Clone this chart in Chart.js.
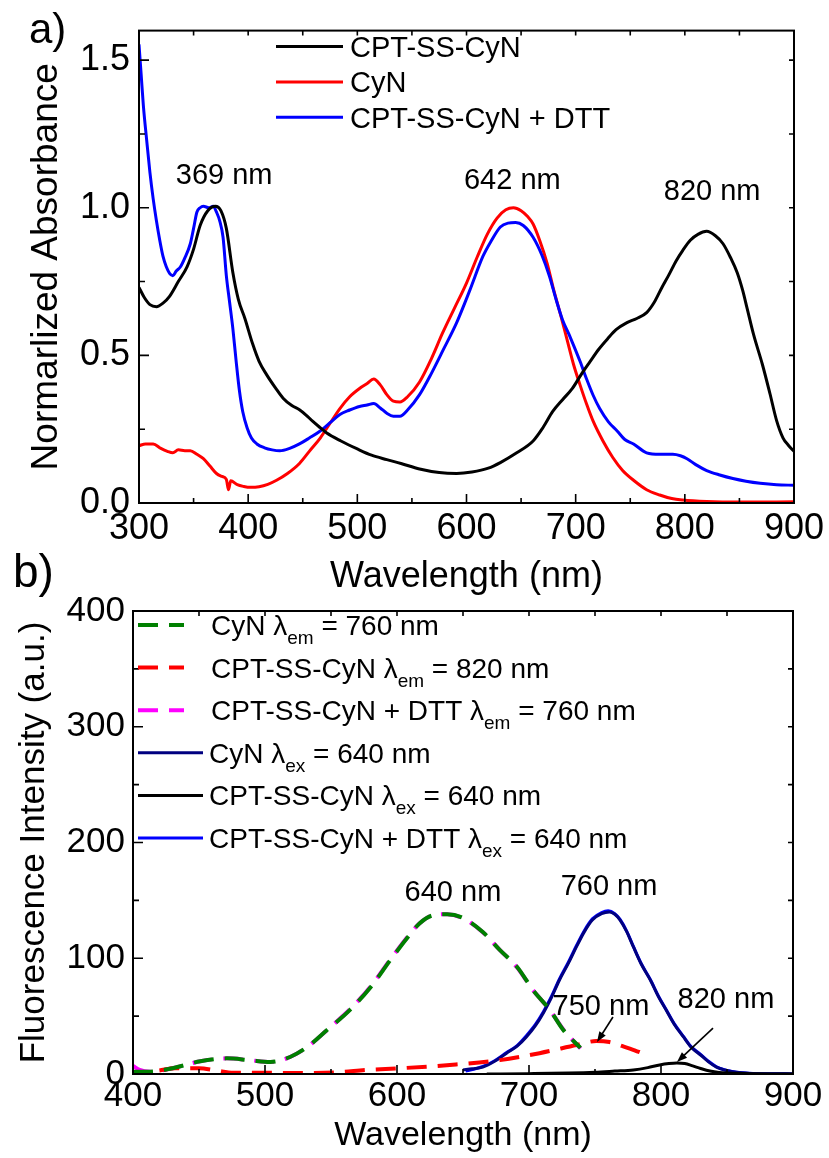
<!DOCTYPE html>
<html>
<head>
<meta charset="utf-8">
<script src="https://cdn.jsdelivr.net/npm/chart.js@4.4.0/dist/chart.umd.min.js"></script>
<style>
  body { margin: 0; background: #fff; }
  #page { position: relative; width: 829px; height: 1158px; }
  canvas { position: absolute; left: 0; }
</style>
</head>
<body>
<div id="page">
  <canvas id="absChart" width="829" height="600" style="top:0"></canvas>
  <canvas id="fluoChart" width="829" height="618" style="top:540px"></canvas>
</div>
<script>
// ---- panel a: absorbance ----
const absNames = ['CPT-SS-CyN', 'CyN', 'CPT-SS-CyN + DTT'];
const absXTicks = [300, 400, 500, 600, 700, 800, 900];
const absYTicks = [0, 0.5, 1.0, 1.5];
const absPeaks = ['369 nm', '642 nm', '820 nm'];

const cptWl = [300,305,310,316,322,328,336,344,350,356,363,370,375,380,386,391,397,404,410,417,425,432,440,447,453,459,466,472,485,500,513,527,540,557,575,591,605,620,631,646,661,670,679,688,697,705,713,721,729,737,747,756,765,772,779,785,792,798,805,812,820,828,835,842,848,853,857,863,871,878,884,890,895,900];
const cptAbs = [0.73,0.695,0.672,0.665,0.677,0.70,0.75,0.80,0.86,0.94,0.99,1.005,0.99,0.93,0.78,0.69,0.625,0.54,0.48,0.434,0.39,0.355,0.33,0.316,0.298,0.277,0.255,0.237,0.21,0.183,0.162,0.147,0.134,0.115,0.103,0.100,0.105,0.118,0.137,0.17,0.21,0.255,0.31,0.35,0.388,0.435,0.478,0.52,0.555,0.587,0.611,0.625,0.645,0.68,0.73,0.77,0.82,0.855,0.89,0.91,0.92,0.905,0.878,0.83,0.78,0.72,0.66,0.57,0.47,0.37,0.28,0.22,0.195,0.175];

const cynWl = [300,306,313,320,326,331,336,342,347,353,359,365,371,376,380,382,384,390,396,402,410,418,426,436,447,456,466,475,484,493,502,509,515,521,527,533,539,546,557,568,578,589,600,610,619,628,636,643,650,656,661,667,674,680,686,692,698,704,710,716,725,734,743,753,765,777,788,798,820,850,900];
const cynAbs = [0.194,0.2,0.2,0.185,0.175,0.17,0.18,0.177,0.177,0.165,0.15,0.125,0.10,0.09,0.08,0.045,0.075,0.062,0.056,0.053,0.055,0.063,0.077,0.10,0.134,0.175,0.22,0.27,0.32,0.36,0.388,0.405,0.42,0.40,0.367,0.345,0.342,0.36,0.41,0.49,0.575,0.66,0.745,0.835,0.91,0.965,0.993,1.0,0.99,0.97,0.945,0.89,0.81,0.72,0.64,0.555,0.47,0.40,0.335,0.277,0.21,0.154,0.11,0.077,0.045,0.027,0.015,0.01,0.005,0.003,0.004];

const dttWl = [300,302,304,307,310,313,316,319,322,325,328,331,334,338,342,347,350,353,356,359,364,368,371,374,377,380,383,386,389,392,395,399,403,408,415,422,429,438,447,456,466,475,484,493,502,509,515,521,527,533,539,546,557,568,579,591,603,615,623,631,638,645,652,661,669,676,682,688,694,698,704,710,716,722,730,738,745,753,765,777,789,796,802,810,820,832,844,856,869,884,900];
const dttAbs = [1.553,1.45,1.346,1.23,1.12,1.03,0.955,0.89,0.835,0.80,0.778,0.77,0.785,0.80,0.83,0.878,0.93,0.985,1.0,1.005,1.0,1.005,0.985,0.955,0.90,0.77,0.68,0.59,0.48,0.38,0.31,0.255,0.22,0.20,0.187,0.18,0.177,0.185,0.20,0.22,0.244,0.272,0.30,0.315,0.327,0.332,0.337,0.322,0.304,0.294,0.294,0.315,0.367,0.44,0.521,0.611,0.72,0.835,0.89,0.935,0.948,0.95,0.94,0.90,0.84,0.768,0.69,0.62,0.57,0.535,0.48,0.42,0.365,0.32,0.275,0.244,0.215,0.20,0.17,0.165,0.165,0.16,0.15,0.13,0.11,0.095,0.083,0.074,0.067,0.062,0.06];

// ---- panel b: fluorescence ----
const fluoNames = ['CyN', 'CPT-SS-CyN', 'CPT-SS-CyN + DTT', 'CyN', 'CPT-SS-CyN', 'CPT-SS-CyN + DTT'];
const fluoMode = ['em', 'em', 'em', 'ex', 'ex', 'ex'];
const fluoFixed = [760, 820, 760, 640, 640, 640];
const fluoXTicks = [400, 500, 600, 700, 800, 900];
const fluoYTicks = [0, 100, 200, 300, 400];
const fluoPeaks = ['640 nm', '760 nm', '750 nm', '820 nm'];

// excitation spectra (dashed)
const exCynWl = [400,413,430,451,471,488,504,519,532,547,564,580,595,608,617,627,638,650,665,678,691,703,716,726,739];
const exCynInt = [2,2,5,11,13.5,12,10.4,14.7,23.3,38,55,75,98.5,118,130,137,138,134.8,122.7,107,92.4,72.6,55,38,22.5];
const exCptWl = [420,432,450,463,476,500,530,555,577,603,640,678,708,736,751,761,771,780,790];
const exCptInt = [3,5,5,3,1,1,0.8,1.5,3.5,5,7.8,12,18,25,28.5,27.6,24,20.5,16];
const exDttWl = [400,405,413,430,451,471,488,504,519,532,547,564,580,595,608,617,627,638,650,665,678,691,703,716,726,739];
const exDttInt = [7,3.5,2,5,11,13.5,12,10.4,14.7,23.3,38,55.5,75.5,99,118.5,130,137,138,134.5,122.5,107,92,72.5,55,38.5,22];

// emission spectra (solid)
const emCynWl = [650,657,665,674,683,691,698,705,711,717,723,730,736,742,748,755,761,765,769,774,779,785,792,798,804,810,817,823,830,836,842,848,854,861,867,880,900];
const emCynInt = [3.5,4.5,6,11,18,24,32,42,53,66,81,96,110,123,133,138.5,140,138,133,123,110,95,81,67,55,43,32,23,16.4,10.5,6,3.5,2,1,0.5,0.2,0.1];
const emCptWl = [668,700,730,750,765,779,790,799,806,812,818,824,830,837,844,850,870,900];
const emCptInt = [0,0.3,0.8,1.5,2.5,3.5,5.5,7.8,9,9.5,9,7,4.8,2.6,1.3,0.8,0.2,0];
const emDttWl = [652,658,665,674,683,691,698,705,711,717,723,730,736,742,748,755,760,765,769,774,779,785,792,798,804,810,817,823,830,836,842,848,854,861,867,880,900];
const emDttInt = [2.5,4,6.5,11.5,18.5,24.5,33,43,54,67,82,97,111,124,134,139.5,141,138.5,133.5,123.5,110.5,95.5,81.5,67.5,55.5,43.5,32.5,23.5,17,11,6.3,3.8,2.2,1.1,0.6,0.2,0.1];

const FONT = "'Liberation Sans', Arial, sans-serif";
Chart.defaults.font.family = FONT;
Chart.defaults.color = '#000';

function pts(xs, ys) {
    return xs.map((x, i) => ({ x: x, y: ys[i] }));
}

function fluoLabel(i) {
    return fluoNames[i] + ' \u03bb' + fluoMode[i] + ' = ' + fluoFixed[i] + ' nm';
}

function fluoParts(i) {
    return [[fluoNames[i] + ' \u03bb', false], [fluoMode[i], true], [' = ' + fluoFixed[i] + ' nm', false]];
}

// frame box with inward ticks on all four sides
const frameTicks = {
    id: 'frameTicks',
    afterDatasetsDraw(chart, args, o) {
        const { ctx, chartArea: a, scales: { x, y } } = chart;
        ctx.save();
        ctx.strokeStyle = '#000';
        ctx.lineWidth = 2;
        ctx.strokeRect(a.left, a.top, a.right - a.left, a.bottom - a.top);
        ctx.lineWidth = 1.6;
        ctx.beginPath();
        for (let v = x.min; v <= x.max + 1e-9; v += o.xStep / 2) {
            const px = x.getPixelForValue(v);
            const major = Math.abs((v - x.min) / o.xStep - Math.round((v - x.min) / o.xStep)) < 1e-6;
            const len = major ? 9 : 5;
            ctx.moveTo(px, a.bottom); ctx.lineTo(px, a.bottom - len);
            ctx.moveTo(px, a.top); ctx.lineTo(px, a.top + 5);
        }
        for (let v = y.min; v <= y.max + 1e-9; v += o.yStep / 2) {
            const py = y.getPixelForValue(v);
            const major = Math.abs(v / o.yStep - Math.round(v / o.yStep)) < 1e-6;
            const len = major ? 10 : 6;
            ctx.moveTo(a.left, py); ctx.lineTo(a.left + len, py);
            ctx.moveTo(a.right, py); ctx.lineTo(a.right - 5, py);
        }
        ctx.stroke();
        ctx.restore();
    }
};

// legend drawn by hand so the lambda subscripts work
const keyBox = {
    id: 'keyBox',
    afterDraw(chart, args, o) {
        const ctx = chart.ctx;
        ctx.save();
        ctx.textBaseline = 'alphabetic';
        ctx.fillStyle = '#000';
        o.rows.forEach((row, i) => {
            const yc = o.top + i * o.dy;
            ctx.strokeStyle = row.color;
            ctx.lineWidth = row.width;
            ctx.setLineDash(row.dash || []);
            ctx.beginPath();
            ctx.moveTo(o.lineX, yc);
            ctx.lineTo(o.lineX + (row.dash ? o.dashLen : o.lineLen), yc);
            ctx.stroke();
            ctx.setLineDash([]);
            let tx = o.textX + (row.dash ? 2 : 0);
            row.parts.forEach(([txt, sub]) => {
                ctx.font = (sub ? o.subSize : o.size) + 'px ' + FONT;
                ctx.fillText(txt, tx, yc + o.size * 0.36 + (sub ? 9 : 0));
                tx += ctx.measureText(txt).width;
            });
        });
        ctx.restore();
    }
};

// peak labels, arrows and the panel tag
const notes = {
    id: 'notes',
    afterDraw(chart, args, o) {
        const { ctx, scales: { x, y } } = chart;
        ctx.save();
        ctx.fillStyle = '#000';
        ctx.strokeStyle = '#000';
        ctx.textAlign = 'center';
        ctx.textBaseline = 'middle';
        ctx.font = o.size + 'px ' + FONT;
        o.labels.forEach(l => {
            ctx.fillText(l.text, x.getPixelForValue(l.x), y.getPixelForValue(l.y));
        });
        (o.arrows || []).forEach(ar => {
            const x0 = x.getPixelForValue(ar.from[0]), y0 = y.getPixelForValue(ar.from[1]);
            const x1 = x.getPixelForValue(ar.to[0]), y1 = y.getPixelForValue(ar.to[1]);
            const ang = Math.atan2(y1 - y0, x1 - x0);
            ctx.lineWidth = 1.6;
            ctx.beginPath();
            ctx.moveTo(x0, y0);
            ctx.lineTo(x1 - 6 * Math.cos(ang), y1 - 6 * Math.sin(ang));
            ctx.stroke();
            ctx.beginPath();
            ctx.moveTo(x1, y1);
            ctx.lineTo(x1 - 11 * Math.cos(ang - 0.35), y1 - 11 * Math.sin(ang - 0.35));
            ctx.lineTo(x1 - 11 * Math.cos(ang + 0.35), y1 - 11 * Math.sin(ang + 0.35));
            ctx.closePath();
            ctx.fill();
        });
        ctx.textAlign = 'left';
        ctx.textBaseline = 'alphabetic';
        ctx.font = o.tag.size + 'px ' + FONT;
        ctx.fillText(o.tag.text, o.tag.x, o.tag.y);
        ctx.restore();
    }
};

function lineSet(label, data, color, order, extra) {
    return Object.assign({
        label: label,
        data: data,
        borderColor: color,
        backgroundColor: color,
        borderWidth: 3,
        pointRadius: 0,
        fill: false,
        cubicInterpolationMode: 'monotone',
        borderJoinStyle: 'round',
        order: order
    }, extra || {});
}

function axisX(ticks, size, pad, height, titleSize, titleBottom, min, max) {
    return {
        type: 'linear', min: min, max: max,
        grid: { display: false, drawTicks: false },
        border: { display: false },
        afterBuildTicks: s => { s.ticks = ticks.map(v => ({ value: v })); },
        afterFit: s => { s.height = height; },
        ticks: { font: { size: size }, padding: pad, autoSkip: false, maxRotation: 0, color: '#000' },
        title: { display: true, text: 'Wavelength (nm)', color: '#000', font: { size: titleSize }, padding: { top: 0, bottom: titleBottom } }
    };
}

function axisY(ticks, size, pad, width, title, titleSize, titleTop, min, max, fmt) {
    return {
        type: 'linear', min: min, max: max,
        grid: { display: false, drawTicks: false },
        border: { display: false },
        afterBuildTicks: s => { s.ticks = ticks.map(v => ({ value: v })); },
        afterFit: s => { s.width = width; },
        ticks: { font: { size: size }, padding: pad, autoSkip: false, color: '#000', callback: fmt },
        title: { display: true, text: title, color: '#000', font: { size: titleSize }, padding: { top: titleTop, bottom: 0 } }
    };
}

// panel a
new Chart(document.getElementById('absChart'), {
    type: 'line',
    data: {
        datasets: [
            lineSet(absNames[0], pts(cptWl, cptAbs), '#000000', 1),
            lineSet(absNames[1], pts(cynWl, cynAbs), '#ff0000', 3),
            lineSet(absNames[2], pts(dttWl, dttAbs), '#0000ff', 2)
        ]
    },
    options: {
        responsive: false,
        animation: false,
        layout: { padding: { top: 24, right: 35, left: 0, bottom: 0 } },
        scales: {
            x: axisX(absXTicks, 36, 4, 97, 36, 1, 300, 900),
            y: axisY(absYTicks, 36, 9, 139, 'Normarlized Absorbance', 37, 25, 0, 1.6, v => v.toFixed(1))
        },
        plugins: {
            legend: { display: false },
            tooltip: { enabled: false },
            frameTicks: { xStep: 100, yStep: 0.5 },
            keyBox: {
                top: 46.5, dy: 35.4, lineX: 276, lineLen: 67, dashLen: 46, textX: 350, size: 29, subSize: 20,
                rows: absNames.map((n, i) => ({ parts: [[n, false]], color: ['#000000', '#ff0000', '#0000ff'][i], width: 3 }))
            },
            notes: {
                size: 29,
                labels: [
                    { text: absPeaks[0], x: 378, y: 1.109 },
                    { text: absPeaks[1], x: 642, y: 1.089 },
                    { text: absPeaks[2], x: 825, y: 1.052 }
                ],
                tag: { text: 'a)', x: 29, y: 43, size: 42 }
            }
        }
    },
    plugins: [frameTicks, keyBox, notes]
});

// panel b
const fluoColors = ['#008000', '#ff0000', '#ff00ff', '#000080', '#000000', '#0000ff'];
const dashB = [20, 11];

new Chart(document.getElementById('fluoChart'), {
    type: 'line',
    data: {
        datasets: [
            lineSet(fluoLabel(0), pts(exCynWl, exCynInt), fluoColors[0], 2, { borderWidth: 4, borderDash: dashB }),
            lineSet(fluoLabel(1), pts(exCptWl, exCptInt), fluoColors[1], 3, { borderWidth: 4, borderDash: dashB }),
            lineSet(fluoLabel(2), pts(exDttWl, exDttInt), fluoColors[2], 6, { borderWidth: 4, borderDash: dashB }),
            lineSet(fluoLabel(3), pts(emCynWl, emCynInt), fluoColors[3], 4),
            lineSet(fluoLabel(4), pts(emCptWl, emCptInt), fluoColors[4], 1),
            lineSet(fluoLabel(5), pts(emDttWl, emDttInt), fluoColors[5], 5)
        ]
    },
    options: {
        responsive: false,
        animation: false,
        layout: { padding: { top: 71, right: 36, left: 0, bottom: 0 } },
        scales: {
            x: axisX(fluoXTicks, 35, 1.5, 84, 34, 1.6, 400, 900),
            y: axisY(fluoYTicks, 35, 8, 133, 'Fluorescence Intensity (a.u.)', 35, 13.7, 0, 400, v => String(v))
        },
        plugins: {
            legend: { display: false },
            tooltip: { enabled: false },
            frameTicks: { xStep: 100, yStep: 100 },
            keyBox: {
                top: 85, dy: 42.6, lineX: 138, lineLen: 65, dashLen: 46, textX: 209, size: 28, subSize: 19,
                rows: fluoNames.map((n, i) => ({
                    parts: fluoParts(i),
                    color: fluoColors[i],
                    width: i < 3 ? 4 : 3,
                    dash: i < 3 ? dashB : null
                }))
            },
            notes: {
                size: 29,
                labels: [
                    { text: fluoPeaks[0], x: 642.4, y: 156.4 },
                    { text: fluoPeaks[1], x: 760.6, y: 161.6 },
                    { text: fluoPeaks[2], x: 754.5, y: 57.9 },
                    { text: fluoPeaks[3], x: 849.2, y: 63.9 }
                ],
                arrows: [
                    { from: [763.6, 49.2], to: [751.5, 27.6] },
                    { from: [839.4, 39.7], to: [812.1, 10.4] }
                ],
                tag: { text: 'b)', x: 13, y: 47, size: 46 }
            }
        }
    },
    plugins: [frameTicks, keyBox, notes]
});
</script>
</body>
</html>
